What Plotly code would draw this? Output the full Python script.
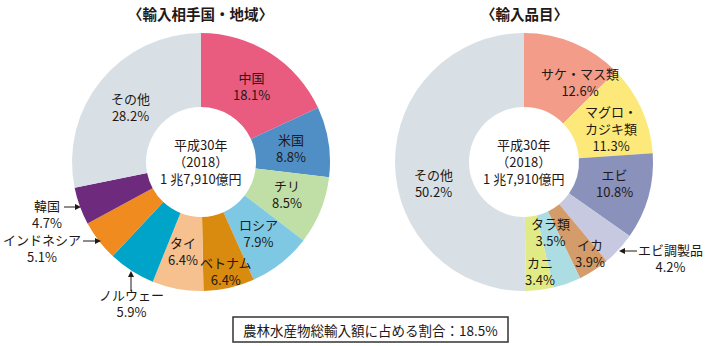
import plotly.graph_objects as go

W, H = 706, 346

# ---- data ----
country_labels = ["中国", "米国", "チリ", "ロシア", "ベトナム", "タイ", "ノルウェー", "インドネシア", "韓国", "その他"]
country_values = [18.1, 8.8, 8.5, 7.9, 6.4, 6.4, 5.9, 5.1, 4.7, 28.2]
country_colors = ["#e95c7f", "#4f8fc6", "#bfdfa6", "#7ec8e4", "#d98b0f", "#f7c08f",
                  "#00a4c9", "#f08b1f", "#6e2a7d", "#d9e0e5"]

item_labels = ["サケ・マス類", "マグロ・カジキ類", "エビ", "エビ調製品", "イカ", "タラ類", "カニ", "その他"]
item_values = [12.6, 11.3, 10.8, 4.2, 3.9, 3.5, 3.4, 50.2]
item_colors = ["#f29c89", "#fde979", "#8a91bb", "#c6c9e0", "#d49c6a", "#abdde3", "#e1eb85", "#d9e0e5"]

center_text = "平成30年<br>（2018）<br>1 兆7,910億円"
title_left = "〈輸入相手国・地域〉"
title_right = "〈輸入品目〉"
footnote = "農林水産物総輸入額に占める割合：18.5%"

FONT = "Noto Sans CJK JP"
TXT = "#231815"

def px(x):
    return x / W

def py(y):
    return 1 - y / H

R = 129
HOLE = 55 / 129
lc = (201, 162)
rc = (524, 162)

fig = go.Figure()
for (cx, cy), labs, vals, cols in [(lc, country_labels, country_values, country_colors),
                                    (rc, item_labels, item_values, item_colors)]:
    fig.add_trace(go.Pie(
        labels=labs, values=vals, sort=False, direction="clockwise", rotation=0,
        hole=HOLE, textinfo="none", hoverinfo="label+value",
        marker=dict(colors=cols, line=dict(width=0)),
        domain=dict(x=[px(cx - R), px(cx + R)], y=[py(cy + R), py(cy - R)]),
        showlegend=False,
    ))

def fmt(lab, v):
    return f"{lab}<br>{v}%"

ann = []
shapes = []

def txt(x, y, s, size=13, **kw):
    ann.append(dict(x=px(x), y=py(y), xref="paper", yref="paper", text=s, showarrow=False,
                    xanchor="center", yanchor="middle",
                    font=dict(family=FONT, size=size, color=TXT), align="center", **kw))

def arrow(x0, y0, x1, y1, hl=6, hw=3):
    # tail (x0,y0) -> head (x1,y1), horizontal or vertical only
    dx = (x1 - x0)
    dy = (y1 - y0)
    L = (dx * dx + dy * dy) ** 0.5
    ux, uy = dx / L, dy / L
    bx, by = x1 - ux * hl, y1 - uy * hl
    shapes.append(dict(type="line", xref="paper", yref="paper",
                       x0=px(x0), y0=py(y0), x1=px(bx), y1=py(by),
                       line=dict(color=TXT, width=1)))
    nx, ny = -uy, ux
    p = (f"M {px(x1)} {py(y1)} L {px(bx + nx * hw)} {py(by + ny * hw)} "
         f"L {px(bx - nx * hw)} {py(by - ny * hw)} Z")
    shapes.append(dict(type="path", xref="paper", yref="paper", path=p,
                       fillcolor=TXT, line=dict(color=TXT, width=0)))

# left labels
cpos = {
    "中国": (251, 86), "米国": (291, 148), "チリ": (287, 194), "ロシア": (258, 233),
    "ベトナム": (226, 271), "タイ": (183, 251), "その他": (130, 107),
    "韓国": (47, 214), "インドネシア": (42, 248), "ノルウェー": (131, 303),
}
for lab, v in zip(country_labels, country_values):
    x, y = cpos[lab]
    txt(x, y, fmt(lab, v))
arrow(64, 207, 81, 207)
arrow(83, 241, 101, 241)
arrow(131, 291, 131, 271)

# right labels
ipos = {
    "サケ・マス類": (580, 82), "エビ": (614, 183), "エビ調製品": (670, 258),
    "イカ": (590, 253), "タラ類": (550, 232), "カニ": (540, 271), "その他": (433, 183),
}
for lab, v in zip(item_labels, item_values):
    if lab == "マグロ・カジキ類":
        txt(611, 128, f"マグロ・<br>カジキ類<br>{v}%")
    else:
        x, y = ipos[lab]
        txt(x, y, fmt(lab, v))
arrow(637, 251, 619, 251)

# center texts
txt(lc[0], 161, center_text)
txt(rc[0], 161, center_text)

# titles
txt(lc[0], 13, f"<b>{title_left}</b>", size=14.5)
txt(rc[0], 13, f"<b>{title_right}</b>", size=14.5)

# footnote
txt(370, 329.5, footnote, size=13.5)
shapes.append(dict(type="rect", xref="paper", yref="paper",
                   x0=px(233), x1=px(508), y0=py(342), y1=py(317),
                   line=dict(color="#333333", width=1.5)))

fig.update_layout(
    width=W, height=H, margin=dict(l=0, r=0, t=0, b=0),
    paper_bgcolor="white", plot_bgcolor="white",
    annotations=ann, shapes=shapes,
    font=dict(family=FONT),
)

fig.write_html("out.html")
